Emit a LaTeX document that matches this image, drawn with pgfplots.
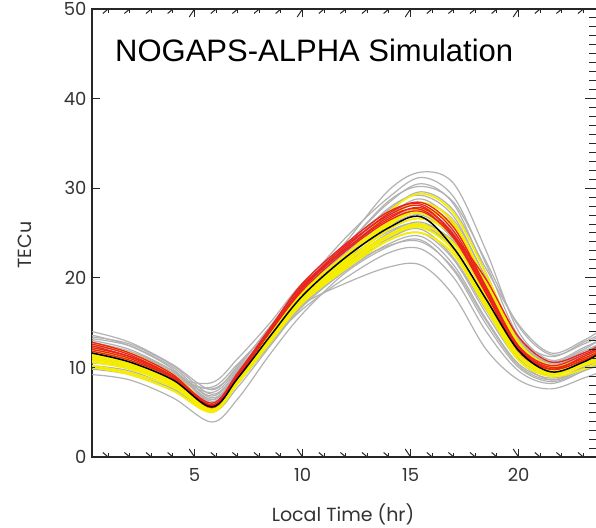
\documentclass[border=0pt]{standalone}
\usepackage{pgfplots}
\usepackage{pgfplotstable}
\pgfplotsset{compat=1.18}
\usepackage{fontspec}
\setmainfont{Liberation Sans}
\newfontfamily\tickfont{Poppins}
\definecolor{cgray}{RGB}{178,178,178}
\definecolor{cyel}{RGB}{245,238,0}
\definecolor{cred}{RGB}{235,35,30}

\pgfplotstableread{
name c1 c2 c3 c4 c5 c6 c7 c8 c9 c10 c11 c12 c13 c14 c15 c16
x   0.25 2 4 5.8 7 8.5 10 12 14 15.5 17 18.5 20 21.5 23 23.7
g1  12.8 11.8 9.6 6.2 9.0 13.8 18.6 24.0 29.8 31.8 30.5 23.0 14.0 10.8 12.2 13.0
g2  13.2 12.4 10.0 6.6 9.4 14.2 19.0 24.5 29.0 31.2 29.0 21.5 13.5 11.2 12.8 13.6
g3  12.0 11.2 9.2 6.0 8.8 13.6 18.4 23.6 28.4 30.5 28.2 20.5 13.0 10.5 11.8 12.6
g4  14.0 12.8 10.3 7.5 10.2 14.5 19.2 23.8 27.6 29.6 27.5 21.0 14.8 11.6 13.0 14.0
g5  11.0 10.4 8.8 8.3 11.0 15.0 19.4 23.0 27.0 28.8 26.0 19.5 13.2 10.2 11.2 12.0
g6  10.5 10.0 8.5 7.8 10.4 14.2 18.6 22.4 26.0 27.6 25.0 18.8 12.4 9.8 10.6 11.4
g7  12.0 11.0 8.8 5.8 8.6 13.0 17.0 19.4 21.2 21.4 18.0 12.0 8.6 7.6 8.8 9.4
g8  9.2 8.6 6.6 3.9 6.5 11.5 16.0 20.6 23.5 24.2 20.8 14.8 10.0 8.4 9.6 10.2
g9  11.2 10.6 8.6 5.4 8.2 12.8 16.5 20.0 22.8 23.2 20.0 14.0 9.6 8.2 9.6 10.4
g10 10.2 9.6 7.8 5.6 8.4 12.8 17.2 21.2 24.2 25.0 22.0 16.0 10.8 8.6 9.8 10.6
g11 12.6 11.6 9.4 6.4 9.4 14.0 18.4 22.8 26.4 27.6 24.8 18.6 12.6 10.0 11.2 12.2
g12 13.6 12.4 9.8 6.0 8.8 13.4 17.8 22.0 25.2 26.0 23.0 17.0 11.4 9.6 11.0 12.4
g13 11.8 11.0 9.0 7.2 9.8 14.0 18.2 22.0 24.6 25.4 22.2 16.4 11.0 9.2 10.4 11.2
g14 10.8 10.2 8.4 6.0 9.0 13.6 17.6 21.6 25.0 26.2 23.8 18.0 12.2 9.8 10.8 11.8
g15 12.4 11.6 9.6 6.8 9.6 14.2 18.8 23.2 27.0 28.4 26.4 20.0 13.4 10.4 11.6 12.6
g16 9.8 9.2 7.4 5.0 7.8 12.4 16.8 20.8 23.8 24.6 21.4 15.4 10.4 8.8 10.0 10.8
g17 13.0 12.0 9.6 6.4 9.0 13.4 18.0 23.0 27.8 29.2 26.8 19.8 12.8 10.6 12.0 13.0
g18 11.4 10.8 9.0 7.6 10.0 14.6 19.0 22.6 25.8 27.0 24.2 18.2 12.0 9.6 10.8 11.6
g19 12.2 11.2 8.8 5.6 8.4 13.2 17.6 21.6 24.4 25.6 23.4 17.4 11.6 9.4 10.6 11.6
g20 10.0 9.4 7.6 5.2 8.2 12.6 17.0 21.0 24.8 26.0 24.0 18.4 12.0 9.0 10.0 10.8
g21 13.4 12.6 10.2 7.0 9.6 14.0 18.8 23.6 28.6 30.2 28.4 21.8 14.6 11.4 12.6 13.4
g22 11.6 10.8 8.6 5.8 8.6 13.2 17.4 21.2 23.6 24.0 21.0 15.2 10.2 8.6 10.0 10.8
y1  10.2 9.4 7.8 5.2 8.4 13.0 17.6 21.4 24.8 26.0 23.4 17.2 11.2 9.2 10.2 11.0
y2  10.6 9.8 8.0 5.0 8.6 13.4 18.0 22.0 26.6 28.4 26.2 19.4 12.6 9.8 10.6 11.4
y3  11.0 10.2 8.2 5.4 8.8 13.6 18.2 22.4 27.4 29.4 27.2 20.4 12.8 10.2 11.0 11.8
y4  12.0 11.0 8.8 5.6 8.6 13.2 17.8 21.8 25.4 26.6 24.6 18.6 12.2 9.6 10.6 11.6
y5  11.4 10.4 8.2 5.2 8.4 13.0 17.4 21.2 24.6 25.6 23.0 16.8 11.2 9.4 10.4 11.2
y6  12.6 11.6 9.2 5.8 8.8 13.6 18.4 22.6 26.2 27.6 25.6 19.2 12.4 9.8 11.0 12.0
y7  10.0 9.2 7.4 5.0 8.2 12.8 17.2 21.0 24.2 25.0 22.6 16.6 10.8 9.0 9.8 10.6
y8  11.8 10.8 8.6 5.4 8.6 13.4 18.0 22.2 26.0 27.2 24.4 17.8 11.4 9.6 10.8 11.6
y9  10.8 10.0 8.0 5.2 8.6 13.2 17.6 21.6 25.8 27.8 25.8 19.6 12.8 10.0 10.8 11.4
y10 11.2 10.4 8.4 5.6 8.8 13.4 17.8 21.8 24.8 25.8 23.8 18.0 11.8 9.4 10.2 10.8
r1  12.4 11.2 9.0 5.8 9.2 14.2 18.9 23.2 26.6 27.8 24.8 18.6 12.2 10.0 11.0 11.8
r2  12.8 11.6 9.2 5.6 9.0 14.0 18.8 23.4 27.2 28.4 25.6 19.0 12.4 10.2 11.4 12.2
r3  12.0 11.0 8.8 5.5 9.0 14.0 19.0 23.6 27.0 28.0 24.6 18.4 12.0 9.8 10.8 11.6
r4  12.6 11.4 9.0 5.8 9.2 14.4 19.4 23.8 27.4 28.2 25.2 18.8 12.2 9.8 10.8 11.6
r5  11.8 10.8 8.8 5.7 9.0 14.0 18.6 23.0 26.4 27.4 24.6 19.8 13.4 10.6 11.6 12.4
r6  12.2 11.2 9.0 6.0 9.4 14.4 19.2 23.2 26.8 27.6 24.4 18.2 11.8 9.8 11.2 12.0
m   11.6 10.6 8.6 5.6 8.8 13.5 18.0 22.3 25.6 26.8 23.3 17.6 11.9 9.5 10.6 11.5
}\rawdata
\pgfplotstabletranspose[colnames from=name]\curves\rawdata

\begin{document}
\begin{tikzpicture}
\begin{axis}[
  at={(92pt,70pt)}, anchor=south west,
  scale only axis, width=506.5pt, height=448pt,
  xmin=0.25, xmax=23.7, ymin=0, ymax=50,
  xtick={5,10,15,20}, ytick={0,10,20,30,40,50},
  minor xtick={1,2,3,4,6,7,8,9,11,12,13,14,16,17,18,19,21,22,23},
  major tick length=8pt, minor tick length=4.5pt,
  every tick/.style={black!85, line width=1pt},
  axis line style={black!85, line width=1.3pt},
  tick align=inside,
  /pgf/number format/assume math mode=true,
  ticklabel style={font=\tickfont\fontsize{18}{20}\selectfont, text=black!80},
  xticklabel style={yshift=-8pt},
  yticklabel style={xshift=-2pt},
  xlabel={Local Time (hr)}, ylabel={TECu},
  label style={font=\tickfont\fontsize{19}{22}\selectfont, text=black!80},
  xlabel style={at={(axis description cs:0.4956,-0.143)}, anchor=base},
  ylabel style={at={(axis description cs:-0.132,0.473)}, anchor=center},
]
\pgfplotsinvokeforeach{g1,g2,g3,g4,g5,g6,g7,g8,g9,g10,g11,g12,g13,g14,g15,g16,g17,g18,g19,g20,g21,g22}{
  \addplot[cgray, line width=1.2pt, smooth, tension=0.55] table[x=x, y=#1] {\curves};
}
\pgfplotsinvokeforeach{y1,y2,y3,y4,y5,y6,y7,y8,y9,y10}{
  \addplot[cyel, line width=1.8pt, smooth, tension=0.55] table[x=x, y=#1] {\curves};
}
\pgfplotsinvokeforeach{r1,r2,r3,r4,r5,r6}{
  \addplot[cred, line width=1.3pt, smooth, tension=0.55] table[x=x, y=#1] {\curves};
}
\addplot[black, line width=1.5pt, smooth, tension=0.55] table[x=x, y=m] {\curves};
\pgfplotsextra{
  \foreach \t in {5,10,15,20} {
    \draw[black!85, line width=1pt] (axis cs:\t,0) -- ++(0,8pt);
    \draw[black!85, line width=1pt] (axis cs:\t,50) -- ++(0,-8pt);
  }
  \foreach \t in {1,2,3,4,6,7,8,9,11,12,13,14,16,17,18,19,21,22,23} {
    \draw[black!85, line width=1pt] (axis cs:\t,0) -- ++(0,4.5pt);
    \draw[black!85, line width=1pt] (axis cs:\t,50) -- ++(0,-4.5pt);
  }
  \foreach \t in {0,10,20,30,40,50} {
    \draw[black!85, line width=1pt] (axis cs:0.25,\t) -- ++(8pt,0);
    \draw[black!85, line width=1pt] (axis cs:23.7,\t) -- ++(-8pt,0);
  }
  \foreach \t in {1,...,9,11,12,...,19,21,22,...,29,31,32,...,39,41,42,...,49} {
    \draw[black!85, line width=1pt] (axis cs:0.25,\t) -- ++(4.5pt,0);
    \draw[black!85, line width=1pt] (axis cs:23.7,\t) -- ++(-4.5pt,0);
  }
}
\node[anchor=base west, inner sep=0pt, font=\fontsize{31}{34}\selectfont] at (axis description cs:0.0454,0.8817) {NOGAPS-ALPHA Simulation};
\end{axis}
\pgfresetboundingbox
\useasboundingbox (0,0) rectangle (596pt,527pt);
\end{tikzpicture}
\end{document}
